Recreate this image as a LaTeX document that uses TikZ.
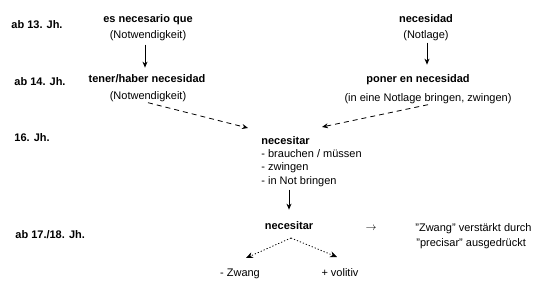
\documentclass[tikz,border=0pt]{standalone}
\usepackage{fontspec}
\setmainfont{Liberation Sans}
\usetikzlibrary{arrows.meta}
\begin{document}
\begin{tikzpicture}[x=1pt,y=-1pt,font=\fontsize{11}{13}\selectfont,line width=0.8pt,
  every node/.style={inner sep=1pt,anchor=base},
  head/.style={font=\fontsize{11}{13}\selectfont\bfseries},
  solidarr/.style={-{Stealth[length=6pt,width=5pt]}},
  dasharr/.style={dash pattern=on 5pt off 4pt,-{Stealth[length=6pt,width=5pt]}},
  dotarr/.style={dash pattern=on 1.2pt off 2pt,-{Stealth[length=7pt,width=6pt]}}]
  \useasboundingbox (0,0) rectangle (544,297);
  \node[head,anchor=base west] (jhA) at (10,28) {ab 13. Jh.};
  \node[head,anchor=base west] (jhB) at (13,85) {ab 14. Jh.};
  \node[head,anchor=base west] (jhC) at (13,141) {16. Jh.};
  \node[head,anchor=base west] (jhD) at (14,238) {ab 17./18. Jh.};
  \node[head] (esnec) at (148,22) {es necesario que};
  \node (notwA) at (148,38) {(Notwendigkeit)};
  \node[head] (tener) at (147,82) {tener/haber necesidad};
  \node (notwB) at (148,99) {(Notwendigkeit)};
  \node[head] (necesidad) at (426,23) {necesidad};
  \node (notlage) at (426,38) {(Notlage)};
  \node[head] (poner) at (418,82) {poner en necesidad};
  \node (bringen) at (428,101) {(in eine Notlage bringen, zwingen)};
  \node[head,anchor=base west] (necA) at (260,144) {necesitar};
  \node[anchor=base west] (meanA) at (260,157) {- brauchen / müssen};
  \node[anchor=base west] (meanB) at (260,170) {- zwingen};
  \node[anchor=base west] (meanC) at (260,184) {- in Not bringen};
  \node[head] (necB) at (289,229) {necesitar};
  \node (arr) at (371,230) {$\rightarrow$};
  \node[anchor=base west] (noteA) at (414,231) {"Zwang" verstärkt durch};
  \node[anchor=base west] (noteB) at (415,246) {"precisar" ausgedrückt};
  \node (zwang) at (240,276) {- Zwang};
  \node (volitiv) at (340,276) {+ volitiv};
  \coordinate (inL) at (248,128);
  \coordinate (inR) at (322,127);
  \coordinate (split) at (291,238);
  \coordinate (outL) at (246,258);
  \coordinate (outR) at (337,257);
  \draw[solidarr,shorten <=3pt,shorten >=5pt] (notwA.south -| 145,0) -- (tener.north -| 145,0);
  \draw[solidarr,shorten <=1pt,shorten >=8pt] (notlage.south -| 427,0) -- (poner.north -| 427,0);
  \draw[dasharr] (notwB.south) -- (inL);
  \draw[dasharr] (bringen.south) -- (inR);
  \draw[solidarr,shorten <=2pt,shorten >=10pt] (meanC.south -| necB) -- (necB.north);
  \draw[dotarr] (split) -- (outL);
  \draw[dotarr] (split) -- (outR);
\end{tikzpicture}
\end{document}
